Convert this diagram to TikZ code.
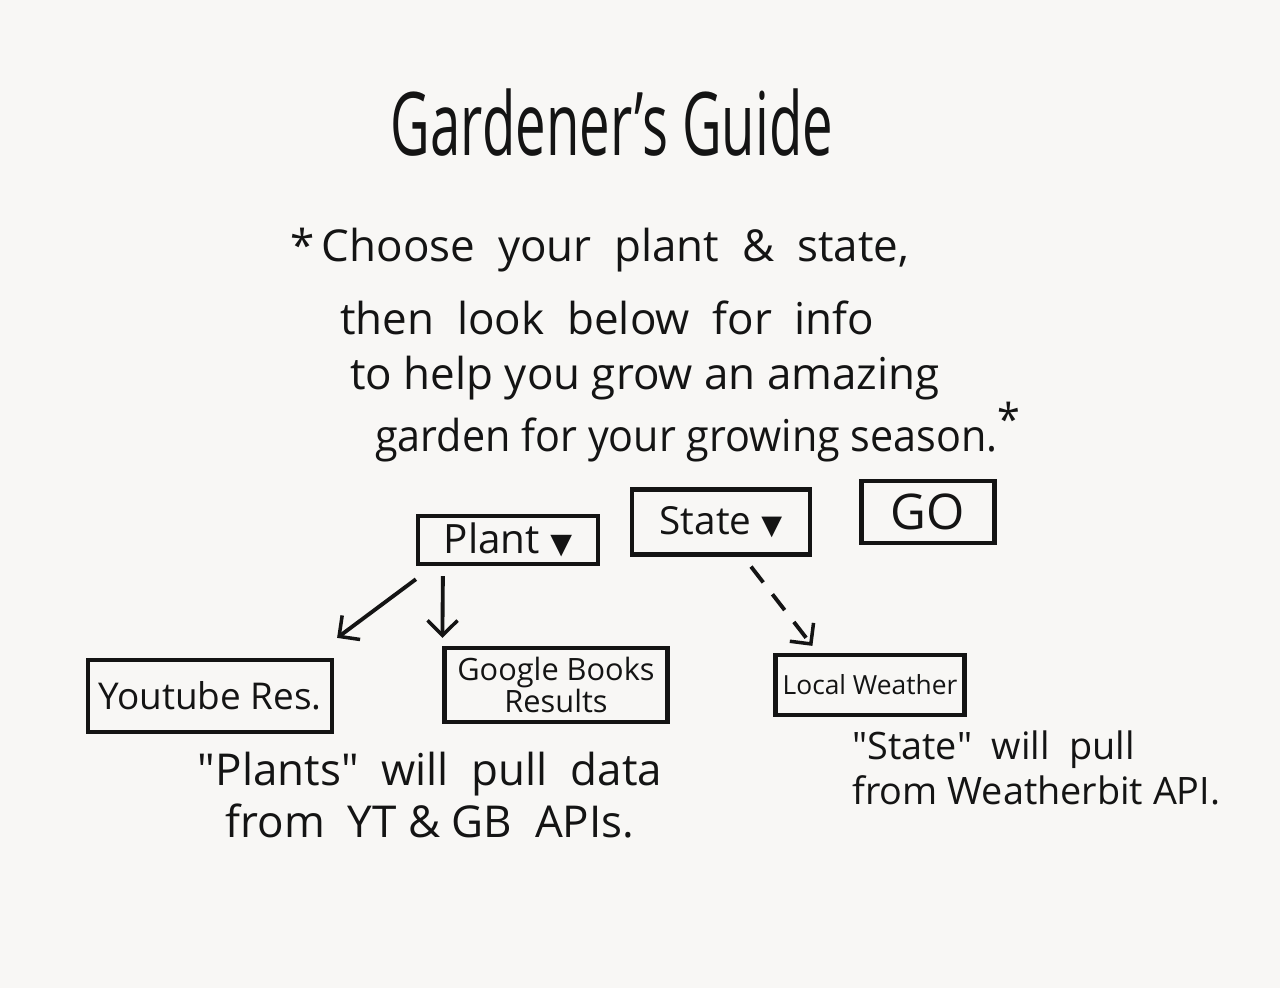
\documentclass[tikz,border=0pt]{standalone}
\usepackage{fontspec}
\setmainfont{Open Sans}
\newfontfamily\ggsym{DejaVu Sans}
\usepackage{xcolor}
\definecolor{ggbg}{HTML}{F8F7F5}
\definecolor{ggink}{HTML}{141414}
\usepackage{tikz}
\usetikzlibrary{arrows.meta,positioning,calc}
\tikzset{
  ggbox/.style={draw=ggink,line width=2.4pt,inner sep=4pt,align=center,text=ggink},
  ggflow/.style={-{Straight Barb[length=3mm,width=6mm,line width=2pt]},line width=2.2pt,draw=ggink},
  ggdash/.style={ggflow,dash pattern=on 4mm off 3mm},
  ggtext/.style={text=ggink,font=\fontsize{25}{30}\selectfont,anchor=west,inner sep=0pt},
  ggnote/.style={text=ggink,inner sep=0pt},
}
\newcommand{\ggdrop}{{\ggsym\scalebox{0.7}{▼}}}
\newcommand{\ggq}{\textquotedbl}

\begin{document}
\begin{tikzpicture}
\fill[ggbg] (0,0) rectangle (25.6,19.76);
\useasboundingbox (0,0) rectangle (25.6,19.76);
% title and instructions
\node[text=ggink,font=\fontsize{50}{54}\selectfont,xscale=0.62] (title) at (12.24,17.3) {Gardener's Guide};
\node[ggtext] (line1) at (5.8,14.76) {*\,Choose\ \ your\ \ plant\ \ \&\ \ state,};
\node[ggtext] (line2) at (6.8,13.4) {then\ \ look\ \ below\ \ for\ \ info};
\node[ggtext] (line3) at (7.0,12.2) {to help you grow an amazing};
\node[ggtext,xscale=0.94] (line4) at (7.5,11.12) {garden for your growing season.\raisebox{0.7ex}{*}};
% selectors
\node[ggbox,minimum width=3.6cm,minimum height=0.9cm,font=\fontsize{23}{24}\selectfont] (plant) at (10.16,8.96) {Plant \ggdrop};
\node[ggbox,minimum width=3.56cm,minimum height=1.3cm,font=\fontsize{22}{24}\selectfont] (state) at (14.42,9.32) {State \ggdrop};
\node[ggbox,minimum width=2.66cm,minimum height=1.24cm,font=\fontsize{28}{30}\selectfont] (go) at (18.56,9.52) {GO};
% results
\node[ggbox,minimum width=4.88cm,minimum height=1.44cm,font=\fontsize{21}{24}\selectfont] (yt) at (4.2,5.84) {Youtube Res.};
\node[ggbox,minimum width=4.46cm,minimum height=1.48cm,font=\fontsize{17.5}{18}\selectfont] (gb) at (11.12,6.06) {Google Books\\Results};
\node[ggbox,minimum width=3.78cm,minimum height=1.2cm,font=\fontsize{15}{17}\selectfont] (weather) at (17.4,6.06) {Local Weather};
\draw[ggflow] ([yshift=-2.6mm]plant.south west) -- ([xshift=0.6mm,yshift=4mm]yt.north east);
\draw[ggflow] ([xshift=5.4mm,yshift=-2mm]plant.south west) -- ([yshift=1.6mm]gb.north west);
\draw[ggdash] ([xshift=6mm,yshift=-2mm]state.south) -- ([xshift=7.8mm,yshift=1.4mm]weather.north west);
% notes
\node[ggnote,align=center,font=\fontsize{25}{29.5}\selectfont] (plantnote) at (8.6,3.86) {\ggq Plants\ggq\ \ will\ \ pull\ \ data\\from\ \ YT\ \&\ GB\ \ APIs.};
\node[ggnote,align=left,anchor=west,font=\fontsize{21.5}{25.5}\selectfont] (statenote) at (17.04,4.4) {\ggq State\ggq\ \ will\ \ pull\\from Weatherbit API.};
\end{tikzpicture}
\end{document}
